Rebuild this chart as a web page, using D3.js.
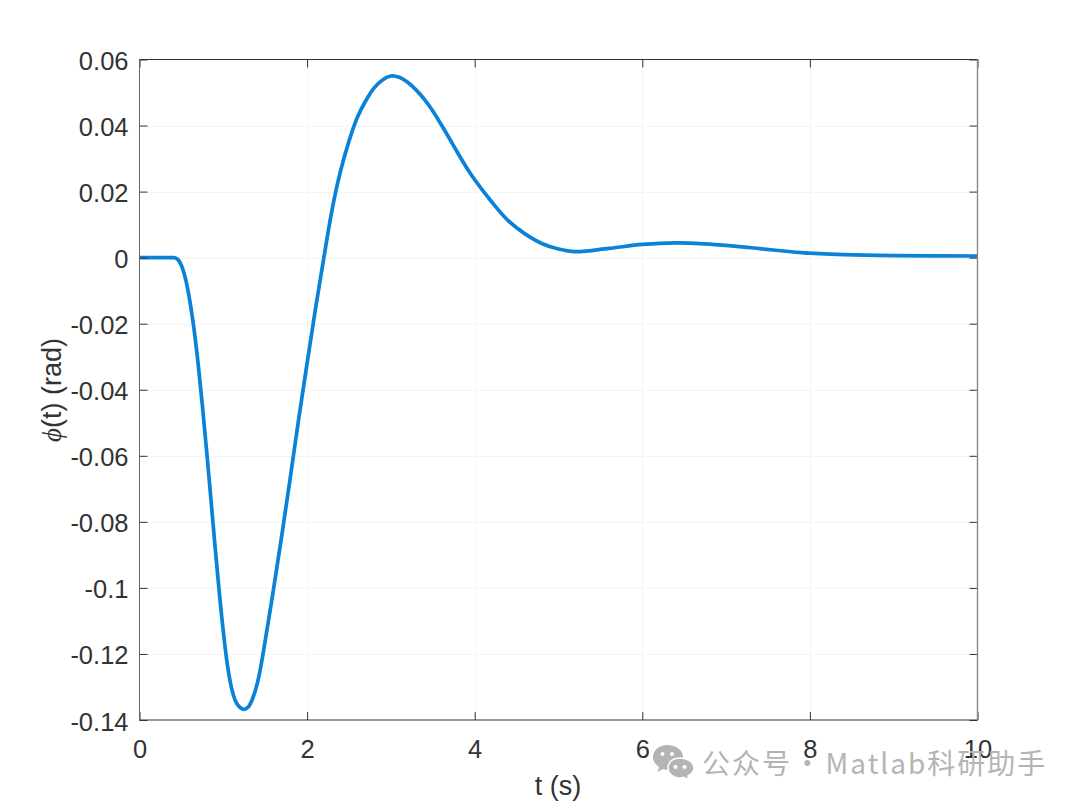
<!DOCTYPE html>
<html><head><meta charset="utf-8">
<script src="https://cdn.jsdelivr.net/npm/d3@7"></script>
<style>
html,body{margin:0;padding:0;background:#fff;overflow:hidden}
text{font-family:"Liberation Sans",Arial,sans-serif}
</style></head><body>
<svg id="c" width="1080" height="806"></svg>
<script>
const tValues=[0,0.2,0.4,0.43,0.46,0.5,0.55,0.6,0.65,0.7,0.75,0.8,0.85,0.9,0.95,1.0,1.05,1.1,1.15,1.2,1.25,1.3,1.35,1.4,1.45,1.5,1.6,1.7,1.8,1.9,2.0,2.1,2.2,2.3,2.4,2.5,2.6,2.7,2.8,2.9,3.0,3.1,3.2,3.3,3.4,3.5,3.6,3.7,3.8,3.9,4.0,4.2,4.4,4.6,4.8,5.0,5.2,5.6,6.0,6.4,6.8,7.3,7.9,8.4,9.0,10];
const phiValues=[0,0,0,-0.0001,-0.0006,-0.0024,-0.0065,-0.013,-0.0215,-0.0322,-0.0447,-0.0583,-0.0725,-0.087,-0.1008,-0.1132,-0.1235,-0.1305,-0.1345,-0.1362,-0.1368,-0.136,-0.1335,-0.1295,-0.1235,-0.116,-0.1003,-0.0838,-0.0665,-0.0488,-0.032,-0.0155,0,0.0148,0.0263,0.0353,0.0425,0.0475,0.0514,0.0538,0.055,0.0546,0.0531,0.0508,0.0479,0.0444,0.0403,0.036,0.0316,0.0274,0.0236,0.017,0.0112,0.0072,0.0043,0.0026,0.0018,0.0028,0.004,0.0045,0.0041,0.003,0.0015,0.0009,0.0006,0.0005];
const xTicks=[0,2,4,6,8,10];
const yTicks=[0.06,0.04,0.02,0,-0.02,-0.04,-0.06,-0.08,-0.1,-0.12,-0.14];
const yTickLabels=["0.06","0.04","0.02","0","-0.02","-0.04","-0.06","-0.08","-0.1","-0.12","-0.14"];
const xLabel="t (s)";
const watermarkParts=[["公众号",0],["·",-7],["Matlab科研助手",-6]];

const L=139.5,R=977.5,T=59.5,B=720;
const x=d3.scaleLinear().domain([0,10]).range([L,R]);
const y=d3.scaleLinear().domain([-0.14,0.06]).range([B,T]);
const svg=d3.select("#c");
const ink="#333333";

// grid
const grid=svg.append("g").attr("stroke","#f5f5f5").attr("stroke-width",1);
grid.selectAll("line.v").data(xTicks.slice(1,-1)).join("line").attr("class","v")
  .attr("x1",d=>Math.round(x(d))+.5).attr("x2",d=>Math.round(x(d))+.5).attr("y1",T).attr("y2",B);
grid.selectAll("line.h").data(yTicks.slice(1,-1)).join("line").attr("class","h")
  .attr("y1",d=>Math.round(y(d))+.5).attr("y2",d=>Math.round(y(d))+.5).attr("x1",L).attr("x2",R);

// curve
svg.append("path").datum(d3.zip(tValues,phiValues))
  .attr("fill","none").attr("stroke","#0a82d8").attr("stroke-width",3.7)
  .attr("stroke-linejoin","round")
  .attr("d",d3.line().x(d=>x(d[0])).y(d=>y(d[1])).curve(d3.curveCatmullRom.alpha(0.5)));

// axes
const fontSize=25.5;
const gx=svg.append("g").attr("transform",`translate(0,${B})`)
  .call(d3.axisBottom(x).tickValues(xTicks).tickFormat(d3.format("d")).tickSize(-8).tickPadding(0));
gx.selectAll(".tick text").attr("y",38).attr("dy",0);
const gy=svg.append("g").attr("transform",`translate(${L},0)`)
  .call(d3.axisLeft(y).tickValues(yTicks).tickFormat((d,i)=>yTickLabels[i]).tickSize(-8).tickPadding(0));
gy.selectAll(".tick text").attr("x",-11).attr("dy",0).attr("y",10);
const gxT=svg.append("g").attr("transform",`translate(0,${T})`)
  .call(d3.axisTop(x).tickValues(xTicks).tickFormat("").tickSize(-8));
const gyR=svg.append("g").attr("transform",`translate(${R},0)`)
  .call(d3.axisRight(y).tickValues(yTicks).tickFormat("").tickSize(-8));
[gx,gy,gxT,gyR].forEach(g=>{
  g.selectAll(".domain").remove();
  g.selectAll(".tick line").attr("stroke",ink).attr("stroke-width",1);
  g.selectAll(".tick text").attr("fill",ink).attr("font-size",fontSize).attr("font-family",'"Liberation Sans",Arial,sans-serif');
});
// box
svg.append("line").attr("x1",L).attr("x2",R).attr("y1",T).attr("y2",T).attr("stroke",ink);
svg.append("line").attr("x1",L).attr("x2",R).attr("y1",B).attr("y2",B).attr("stroke",ink).attr("stroke-width",1.2);
svg.append("line").attr("x1",L).attr("x2",L).attr("y1",T).attr("y2",B).attr("stroke","#666").attr("stroke-width",1);
svg.append("line").attr("x1",R).attr("x2",R).attr("y1",T).attr("y2",B).attr("stroke","#888").attr("stroke-width",1.4);

// labels
svg.append("text").attr("x",558).attr("y",795).attr("text-anchor","middle").attr("fill",ink)
  .attr("font-size",27).text(xLabel);
const yl=svg.append("text").attr("transform","translate(61,390) rotate(-90)").attr("text-anchor","middle")
  .attr("fill",ink).attr("font-size",27);
yl.append("tspan").attr("font-family",'"Liberation Serif",serif').attr("font-style","italic").text("ϕ");
yl.append("tspan").text("(t) (rad)");

// watermark
const wm=svg.append("g").attr("fill","#b4b4b4");
const wmText=wm.append("text").attr("x",702).attr("y",774).attr("font-size",28).attr("letter-spacing",2)
  .attr("xml:space","preserve").style("white-space","pre")
  .style("font-family",'"Noto Sans CJK SC","Noto Sans",sans-serif');
watermarkParts.forEach((p,i)=>{
  wmText.append("tspan").attr("dx",p[1]).text((i?" ":"")+p[0]);
});
const icon=wm.append("g").attr("transform","translate(653,745)");
icon.append("path").attr("d","M14,0C6,0 0,5 0,12C0,16 2,19 6,22L4.5,27L10,24C12,24.6 14,25 17,25C24,25 30,19 30,12C30,5 23,0 14,0Z");
icon.append("path").attr("d","M27,13C19.5,13 15,17.5 15,23C15,28.5 20,33 27,33C28.5,33 30,32.7 31,32.3L36,35L35,31C38.500,29 41,26.500 41,23C41,17.500 35,13 27,13Z").attr("stroke","#fff").attr("stroke-width",1.5);
icon.selectAll("circle.e").data([[9.5,9],[19,9],[22.5,22],[31.5,22]]).join("circle").attr("class","e")
  .attr("cx",d=>d[0]).attr("cy",d=>d[1]).attr("r",2).attr("fill","#fff");
</script></body></html>
